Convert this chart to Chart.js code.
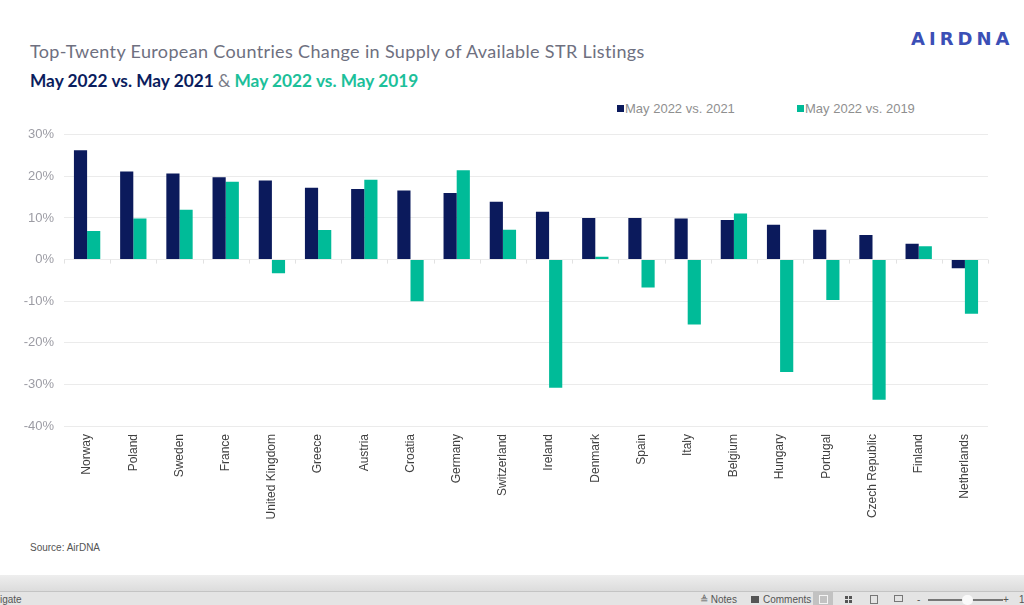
<!DOCTYPE html>
<html>
<head>
<meta charset="utf-8">
<script src="https://cdn.jsdelivr.net/npm/chart.js@4"></script>
<style>
  html, body { margin:0; padding:0; width:1024px; height:605px; overflow:hidden; background:#fff; position:relative; }
  .abs { position:absolute; white-space:nowrap; }
  #title { left:30px; top:40px; font-family:Lato, sans-serif; font-size:18px; letter-spacing:0.35px; color:#6e7080; }
  #subtitle { left:30px; top:70px; font-family:Lato, sans-serif; font-size:17.3px; font-weight:bold; color:#0b1d5e; }
  #subtitle .amp { color:#7a7c88; font-weight:normal; }
  #subtitle .teal { color:#1cc09a; }
  #logo { left:911px; top:28px; font-family:"DejaVu Sans", sans-serif; font-size:18px; letter-spacing:4px; color:#3b4fb6; font-weight:bold; }
  .leg { font-family:"Liberation Sans", Arial, sans-serif; font-size:13px; color:#8f8f8f; top:101px; }
  .sq { position:absolute; width:7px; height:7px; top:105px; }
  #source { left:30px; top:542px; font-family:"Liberation Sans Narrow", "Liberation Sans", sans-serif; font-size:10px; color:#555; }
  #band { left:0; top:575px; width:1024px; height:16px; background:linear-gradient(#eeeeee,#dcdcdc); }
  #line { left:0; top:591px; width:1024px; height:1px; background:#c4c4c4; }
  #status { left:0; top:592px; width:1024px; height:13px; background:#e4e4e4; }
  .st { font-family:"Liberation Sans", sans-serif; font-size:10px; color:#555; top:594px; }
  #chartwrap { left:0; top:117px; width:1000px; height:420px; }
</style>
</head>
<body>
<div id="title" class="abs">Top-Twenty European Countries Change in Supply of Available STR Listings</div>
<div id="subtitle" class="abs">May 2022 vs. May 2021 <span class="amp">&amp;</span> <span class="teal">May 2022 vs. May 2019</span></div>
<div id="logo" class="abs">AIRDNA</div>

<div class="sq" style="left:617px;background:#0b1a5c;"></div>
<div class="abs leg" style="left:625px;">May 2022 vs. 2021</div>
<div class="sq" style="left:797px;background:#00bb98;"></div>
<div class="abs leg" style="left:805px;">May 2022 vs. 2019</div>

<div id="chartwrap" class="abs"><canvas id="c" width="1000" height="420"></canvas></div>

<div id="source" class="abs">Source: AirDNA</div>
<div id="band" class="abs"></div>
<div id="line" class="abs"></div>
<div id="status" class="abs"></div>
<div class="abs st" style="left:0px;">igate</div>
<div class="abs st" style="left:700px;">&#8796; Notes</div>
<div class="abs" style="left:751px;top:596px;width:8px;height:7px;background:#555;"></div>
<div class="abs st" style="left:763px;">Comments</div>
<div class="abs" style="left:813px;top:592px;width:20px;height:13px;background:#c2c2c2;"></div>
<div class="abs" style="left:819px;top:595px;width:7px;height:7px;border:1px solid #f4f4f4;"></div>
<div class="abs" style="left:845px;top:596px;width:3px;height:3px;background:#555;box-shadow:4px 0 #555, 0 4px #555, 4px 4px #555;"></div>
<div class="abs" style="left:870px;top:595px;width:6px;height:7px;border:1px solid #777;"></div>
<div class="abs" style="left:894px;top:595px;width:7px;height:5px;border:1px solid #777;"></div>
<div class="abs st" style="left:917px;">-</div>
<div class="abs" style="left:928px;top:599px;width:75px;height:2px;background:#777;"></div>
<div class="abs" style="left:962px;top:595px;width:11px;height:10px;border-radius:6px;background:#fafafa;"></div>
<div class="abs st" style="left:1003px;">+</div>
<div class="abs st" style="left:1019px;">1</div>

<script>
const categories = ["Norway","Poland","Sweden","France","United Kingdom","Greece","Austria","Croatia","Germany","Switzerland","Ireland","Denmark","Spain","Italy","Belgium","Hungary","Portugal","Czech Republic","Finland","Netherlands"];
const change2021 = [26.3, 21.2, 20.7, 19.8, 19.0, 17.3, 17.0, 16.6, 16.0, 13.9, 11.5, 10.0, 10.0, 9.9, 9.5, 8.4, 7.2, 5.9, 3.8, -2.1];
const change2019 = [6.9, 9.9, 12.0, 18.7, -3.3, 7.1, 19.2, -10.0, 21.5, 7.2, -30.8, 0.7, -6.7, -15.6, 11.1, -27.0, -9.7, -33.7, 3.2, -13.0];
const seriesNames = ["May 2022 vs. 2021", "May 2022 vs. 2019"];
const yMin = -40, yMax = 30, yStep = 10;

const zeroTicks = {
  id: 'zeroTicks',
  beforeDatasetsDraw(chart) {
    const xs = chart.scales.x, ys = chart.scales.y, ctx = chart.ctx;
    const y0 = ys.getPixelForValue(0);
    const half = (xs.getPixelForValue(1) - xs.getPixelForValue(0)) / 2;
    ctx.save();
    ctx.strokeStyle = '#e2e2e2';
    ctx.lineWidth = 1;
    for (let i = 0; i <= categories.length; i++) {
      const x = Math.round(xs.getPixelForValue(i) - half) + 0.5;
      ctx.beginPath(); ctx.moveTo(x, y0); ctx.lineTo(x, y0 + 4); ctx.stroke();
    }
    ctx.restore();
  }
};

new Chart(document.getElementById('c'), {
  type: 'bar',
  data: {
    labels: categories,
    datasets: [
      { label: seriesNames[0], data: change2021, backgroundColor: '#0b1a5c', categoryPercentage: 0.57, barPercentage: 1.0 },
      { label: seriesNames[1], data: change2019, backgroundColor: '#00bb98', categoryPercentage: 0.57, barPercentage: 1.0 }
    ]
  },
  options: {
    responsive: false,
    animation: false,
    layout: { padding: { top: 1, right: 12, left: 0, bottom: 0 } },
    plugins: { legend: { display: false }, tooltip: { enabled: false } },
    scales: {
      x: {
        offset: true,
        grid: { display: false, drawTicks: false },
        border: { display: false },
        ticks: { autoSkip: false, minRotation: 90, maxRotation: 90, padding: 8, color: '#404040', font: { family: 'Liberation Sans', size: 12 } },
        afterFit(s) { s.height = 111; }
      },
      y: {
        min: yMin, max: yMax,
        grid: { color: '#ebebeb', drawTicks: false },
        border: { display: false },
        ticks: { stepSize: yStep, padding: 10, color: '#9c9ca4', font: { family: 'Liberation Sans', size: 13 }, callback: v => v + '%' },
        afterFit(s) { s.width = 64; }
      }
    }
  },
  plugins: [zeroTicks]
});
</script>
</body>
</html>
